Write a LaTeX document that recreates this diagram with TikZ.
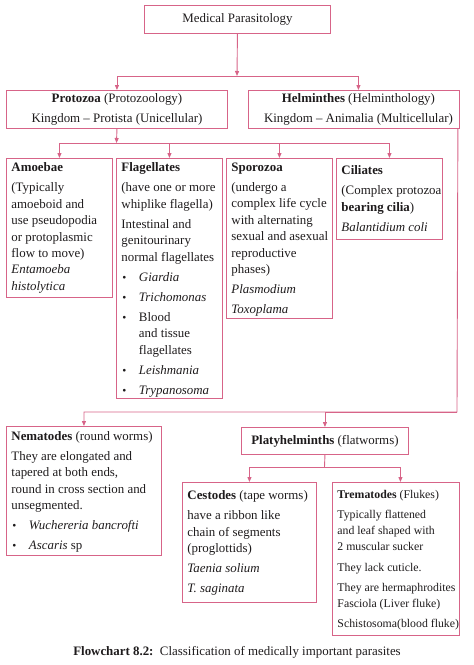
\documentclass[tikz,border=0pt]{standalone}
\usepackage{fontspec}
\setmainfont{Liberation Serif}
\usetikzlibrary{arrows.meta}
\definecolor{pk}{RGB}{215,100,136}
\definecolor{tx}{RGB}{30,27,28}
\newcommand\bxt[5]{\parbox[c][#2][t]{#1}{\fontsize{#4}{16.4}\selectfont\color{tx}\setlength\parskip{3.7pt}\vspace*{#3}#5\par}}
\newcommand\LL[1]{\mbox{#1}}
\newcommand\itm{\par\hangindent=17.5pt\hangafter=1\noindent\makebox[17.5pt][l]{\hspace{1pt}{\fontsize{11.5}{11.5}\selectfont\textbullet}}}
\tikzset{
  bx/.style={draw=pk, line width=0.9pt, inner xsep=5pt, inner ysep=0pt, anchor=north west, text=tx, font=\fontsize{12.9}{16.4}\selectfont},
  ln/.style={draw=pk, line width=0.9pt},
  arr/.style={ln, -{Triangle[width=4pt,length=5pt]}}
}
\begin{document}
\begin{tikzpicture}[x=1pt,y=-1pt]
\useasboundingbox (0,0) rectangle (474,665);
% level 0
\node[bx, minimum width=186pt, minimum height=28pt, align=center] (top) at (144,5) {Medical Parasitology};
% level 1
\node[bx, minimum width=221pt, minimum height=38pt, align=center] (protozoa) at (6,90)
  {\textbf{Protozoa} (Protozoology)\\[3.6pt]Kingdom \textendash{} Protista (Unicellular)};
\node[bx, minimum width=211pt, minimum height=38pt, align=center] (helminthes) at (248,90)
  {\hspace*{9pt}\textbf{Helminthes} (Helminthology)\\[3.6pt]\hspace*{9pt}Kingdom \textendash{} Animalia (Multicellular)};
% level 2 protozoa
\node[bx] (amoebae) at (6,158) {\bxt{96pt}{139pt}{0.7pt}{12.9}{%
\textbf{Amoebae}\par
\LL{(Typically}\newline\LL{amoeboid and}\newline\LL{use pseudopodia}\newline\LL{or protoplasmic}\newline\LL{flow to move)}\newline\LL{\textit{Entamoeba}}\newline\LL{\textit{histolytica}}}};
\node[bx] (flagellates) at (116,158) {\bxt{96pt}{240pt}{0.7pt}{12.9}{%
\textbf{Flagellates}\par
\LL{(have one or more}\newline\LL{whiplike flagella)}\par
\LL{Intestinal and}\newline\LL{genitourinary}\newline\LL{normal flagellates}
\itm\LL{\textit{Giardia}}
\itm\LL{\textit{Trichomonas}}
\itm\LL{Blood}\newline\LL{and tissue}\newline\LL{flagellates}
\itm\LL{\textit{Leishmania}}
\itm\LL{\textit{Trypanosoma}}}};
\node[bx] (sporozoa) at (226,158) {\bxt{96pt}{160pt}{0.7pt}{12.9}{%
\textbf{Sporozoa}\par
\LL{(undergo a}\newline\LL{complex life cycle}\newline\LL{with alternating}\newline\LL{sexual and asexual}\newline\LL{reproductive}\newline\LL{phases)}\par
\LL{\textit{Plasmodium}}\par
\LL{\textit{Toxoplama}}}};
\node[bx] (ciliates) at (336,158) {\bxt{96pt}{81pt}{3.7pt}{12.9}{%
\textbf{Ciliates}\par
\LL{(Complex protozoa}\newline\LL{\textbf{bearing cilia})}\par
\LL{\textit{Balantidium coli}}}};
% helminthes branch
\node[bx] (nematodes) at (6,426) {\bxt{145pt}{129pt}{1.2pt}{12.9}{%
\LL{\textbf{Nematodes} (round worms)}\par
\LL{They are elongated and}\newline\LL{tapered at both ends,}\newline\LL{round in cross section and}\newline\LL{unsegmented.}
\itm\LL{\textit{Wuchereria bancrofti}}
\itm\LL{\textit{Ascaris} sp}}};
\node[bx, minimum width=167pt, minimum height=27pt, align=center] (platy) at (241,427)
  {\textbf{Platyhelminths} (flatworms)};
\node[bx] (cestodes) at (182,482) {\bxt{124pt}{120pt}{4.7pt}{12.9}{%
\LL{\textbf{Cestodes} (tape worms)}\par
\LL{have a ribbon like}\newline\LL{chain of segments}\newline\LL{(proglottids)}\par
\LL{\textit{Taenia solium}}\par
\LL{\textit{T. saginata}}}};
\node[bx] (trematodes) at (332,482) {\bxt{117pt}{153pt}{3.7pt}{11.8}{%
\LL{\textbf{Trematodes} (Flukes)}\par
\LL{Typically flattened}\newline\LL{and leaf shaped with}\newline\LL{2 muscular sucker}\par
\LL{They lack cuticle.}\par
\LL{They are hermaphrodites}\newline\LL{Fasciola (Liver fluke)}\par
\LL{Schistosoma(blood fluke)}}};
% caption
\node[anchor=base, text=tx, font=\fontsize{12.9}{14}\selectfont, inner sep=0pt] (cap) at (237,655)
  {\textbf{Flowchart 8.2:}\ \ Classification of medically important parasites};
% junctions
\coordinate (j1) at (237,76);
\coordinate (j2) at (116.5,143);
\coordinate (j3) at (457,412);
\coordinate (j4) at (324.5,467);
% connectors
\draw[arr] (top.south) -- (j1);
\draw[arr] (j1) -| (protozoa.north);
\draw[arr] (j1) -| ([xshift=4.5pt]helminthes.north);
\draw[arr] (protozoa.south) -- (j2);
\draw[arr] (j2) -| (amoebae.north);
\draw[arr] (j2) -| (flagellates.north);
\draw[arr] (j2) -| (sporozoa.north);
\draw[arr] (j2) -| (ciliates.north);
\draw[arr] ([xshift=-2pt]helminthes.south east) -- (j3) -| (nematodes.north);
\draw[arr] (j3) -| (platy.north);
\draw[ln] (platy.south) -- (j4);
\draw[arr] (j4) -| (cestodes.north);
\draw[arr] (j4) -| ([xshift=4.5pt]trematodes.north);
\end{tikzpicture}
\end{document}
